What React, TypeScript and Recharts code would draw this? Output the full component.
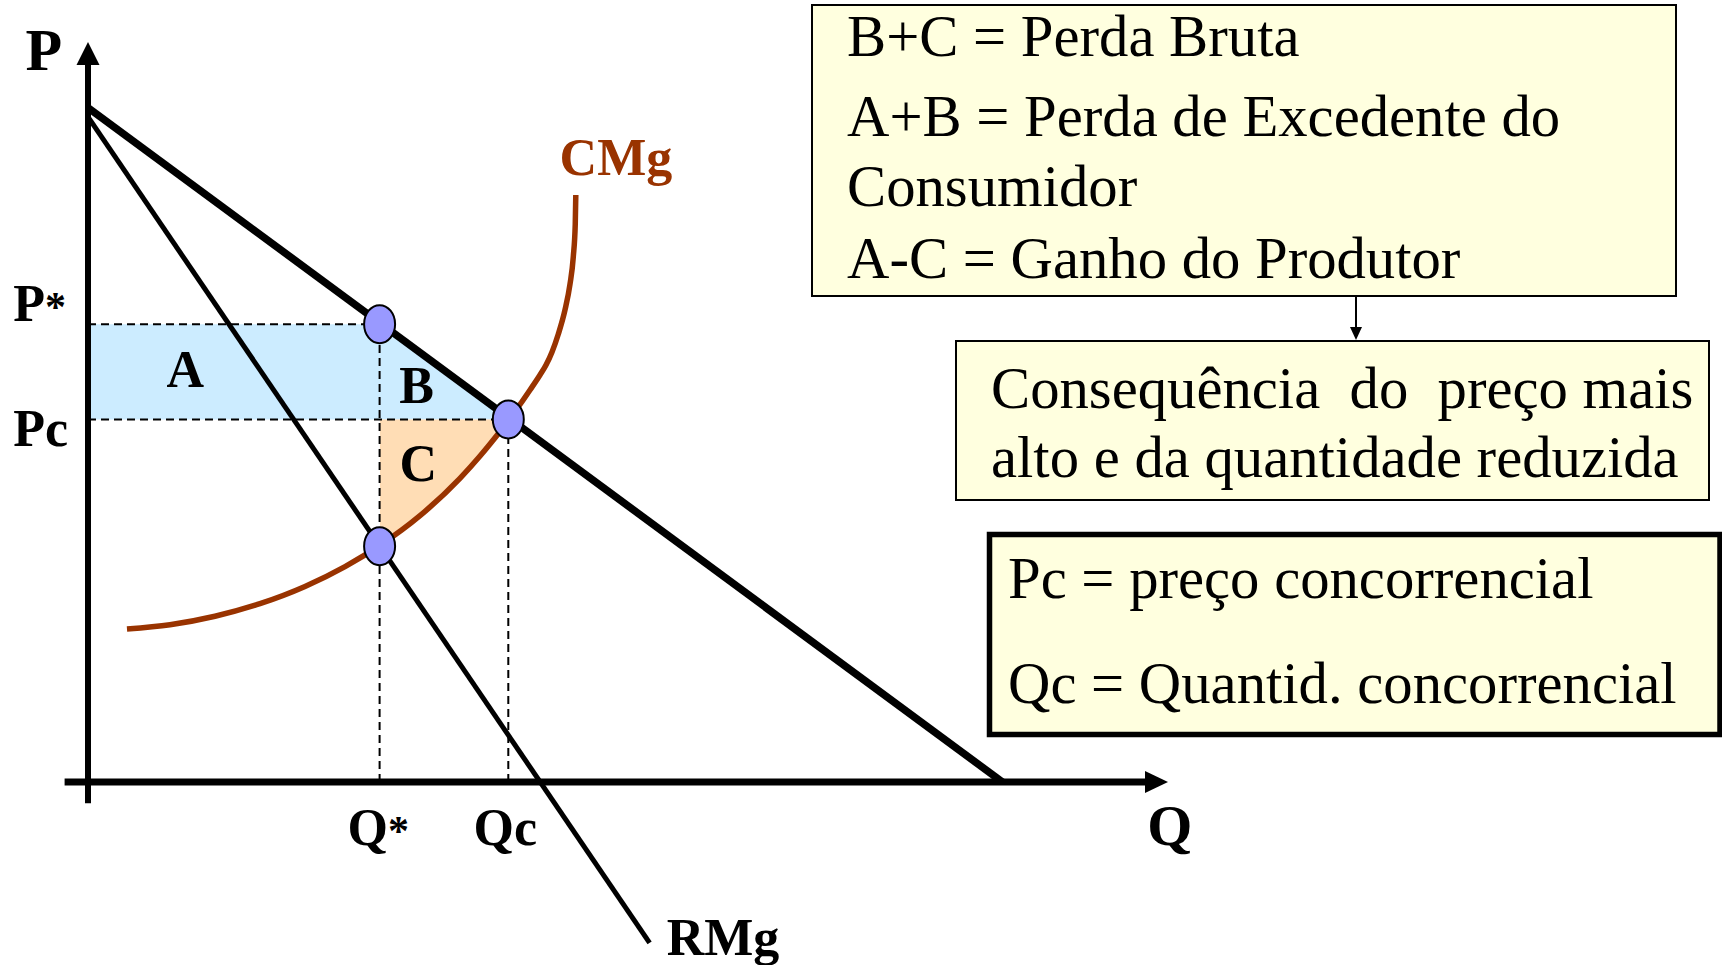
import React from 'react';
import {
  Area,
  ComposedChart,
  Line,
  ReferenceDot,
  ReferenceLine,
  Scatter,
  XAxis,
  YAxis,
} from 'recharts';

// monopoly equilibrium (in chart units)
const qStar = 32.4;
const qComp = 46.7;
const pStar = 49.5;
const pComp = 39.2;
const mcAtQStar = 25.5;

// demand (average revenue) line
const demand = [
  { q: 0, p: 72.9 },
  { q: 101.6, p: 0 },
];

// marginal revenue RMg
const marginalRevenue = [
  { q: 0, p: 71.9 },
  { q: 62.4, p: -17.4 },
];

// marginal cost CMg
const marginalCost = [
  { q: 4.33, p: 16.54 },
  { q: 9.11, p: 17.0 },
  { q: 14.11, p: 17.92 },
  { q: 19.11, p: 19.28 },
  { q: 24.11, p: 21.14 },
  { q: 28.56, p: 23.29 },
  { q: 32.44, p: 25.58 },
  { q: 36.89, p: 28.79 },
  { q: 41.33, p: 32.83 },
  { q: 43.56, p: 35.24 },
  { q: 44.67, p: 36.54 },
  { q: 45.78, p: 37.89 },
  { q: 46.67, p: 39.03 },
  { q: 48.0, p: 40.81 },
  { q: 49.11, p: 42.38 },
  { q: 50.22, p: 44.0 },
  { q: 50.89, p: 45.08 },
  { q: 51.56, p: 46.49 },
  { q: 52.26, p: 48.43 },
  { q: 53.0, p: 51.03 },
  { q: 53.56, p: 53.84 },
  { q: 53.92, p: 56.76 },
  { q: 54.14, p: 60.32 },
  { q: 54.2, p: 63.46 },
];

const markedPoints = [
  { q: qStar, p: pStar },
  { q: qComp, p: pComp },
  { q: qStar, p: mcAtQStar },
];

const boxOneLines = [
  'B+C = Perda Bruta',
  'A+B = Perda de Excedente do',
  'Consumidor',
  'A-C = Ganho do Produtor',
];
const boxTwoLines = ['Consequência  do  preço mais', 'alto e da quantidade reduzida'];
const boxThreeLines = ['Pc = preço concorrencial', 'Qc = Quantid. concorrencial'];

// shaded areas built from the values above
const lostSurplus = [
  { q: 0, band: [pComp, pStar] },
  { q: qStar, band: [pComp, pStar] },
  { q: qComp, band: [pComp, pComp] },
];
const deadweightC = marginalCost
  .filter((d) => d.q >= qStar && d.q <= qComp)
  .map((d) => ({ q: d.q, band: [Math.min(d.p, pComp), pComp] }));

const serif = "'Liberation Serif', 'Times New Roman', serif";
const brown = '#993300';

type TextOpts = { size?: number; anchor?: string; color?: string; dx?: number; dy?: number; star?: boolean };

// text label drawn at a data position
const textShape = (label: string, opts: TextOpts = {}) => (props: any) => (
  <text
    x={props.cx + (opts.dx || 0)}
    y={props.cy + (opts.dy || 0)}
    fontFamily={serif}
    fontWeight="bold"
    fontSize={opts.size || 52}
    fill={opts.color || '#000'}
    textAnchor={opts.anchor || 'middle'}
  >
    {label}
    {opts.star && <tspan fontSize={42}>*</tspan>}
  </text>
);

const ellipseShape = (props: any) => (
  <ellipse cx={props.cx} cy={props.cy} rx={15.5} ry={19} fill="#9999FF" stroke="#000" strokeWidth={2} />
);

export default function App() {
  const dash = { stroke: '#000', strokeWidth: 2, strokeDasharray: '8 5', ifOverflow: 'visible' as const };

  return (
    <div style={{ position: 'absolute', left: 0, top: 0, width: 1722, height: 965, background: '#fff' }}>
      <ComposedChart
        width={1722}
        height={965}
        margin={{ top: 32.75, right: 455, bottom: 7.25, left: 7 }}
      >
        <XAxis type="number" dataKey="q" domain={[-9, 131]} hide />
        <YAxis type="number" domain={[-19, 81]} hide />

        <Area
          data={lostSurplus}
          dataKey="band"
          type="linear"
          fill="#CCECFF"
          fillOpacity={1}
          stroke="none"
          isAnimationActive={false}
        />
        <Area
          data={deadweightC}
          dataKey="band"
          type="monotone"
          fill="#FFDDB5"
          fillOpacity={1}
          stroke="none"
          isAnimationActive={false}
        />

        <ReferenceLine segment={[{ x: 0, y: pStar }, { x: qStar, y: pStar }]} {...dash} />
        <ReferenceLine segment={[{ x: 0, y: pComp }, { x: qComp, y: pComp }]} {...dash} />
        <ReferenceLine segment={[{ x: qStar, y: 0 }, { x: qStar, y: pStar }]} {...dash} />
        <ReferenceLine segment={[{ x: qComp, y: 0 }, { x: qComp, y: pComp }]} {...dash} />

        {/* axes with arrows */}
        <ReferenceLine
          segment={[{ x: 0, y: -2.3 }, { x: 0, y: 77.6 }]}
          stroke="#000"
          strokeWidth={6}
          ifOverflow="visible"
        />
        <ReferenceLine
          segment={[{ x: -2.6, y: 0 }, { x: 117.5, y: 0 }]}
          stroke="#000"
          strokeWidth={7}
          ifOverflow="visible"
        />
        <ReferenceDot
          x={0}
          y={80}
          ifOverflow="visible"
          shape={(p: any) => (
            <polygon points={`${p.cx},${p.cy} ${p.cx - 11.5},${p.cy + 23} ${p.cx + 11.5},${p.cy + 23}`} fill="#000" />
          )}
        />
        <ReferenceDot
          x={120}
          y={0}
          ifOverflow="visible"
          shape={(p: any) => (
            <polygon points={`${p.cx},${p.cy} ${p.cx - 23},${p.cy - 11} ${p.cx - 23},${p.cy + 11}`} fill="#000" />
          )}
        />

        <Line
          data={demand}
          dataKey="p"
          type="linear"
          stroke="#000"
          strokeWidth={7.5}
          dot={false}
          activeDot={false}
          isAnimationActive={false}
        />
        <Line
          data={marginalRevenue}
          dataKey="p"
          type="linear"
          stroke="#000"
          strokeWidth={5}
          dot={false}
          activeDot={false}
          isAnimationActive={false}
        />
        <Line
          data={marginalCost}
          dataKey="p"
          type="monotone"
          stroke={brown}
          strokeWidth={5.5}
          dot={false}
          activeDot={false}
          isAnimationActive={false}
        />

        <Scatter data={markedPoints} dataKey="p" shape={ellipseShape} isAnimationActive={false} />

        {/* labels */}
        <ReferenceDot x={-4.9} y={77} ifOverflow="visible" shape={textShape('P', { size: 60 })} />
        <ReferenceDot x={-8.3} y={pStar} ifOverflow="visible" shape={textShape('P', { anchor: 'start', dy: -3, star: true })} />
        <ReferenceDot x={-8.3} y={pComp} ifOverflow="visible" shape={textShape('Pc', { anchor: 'start', dy: 27 })} />
        <ReferenceDot x={qStar} y={0} ifOverflow="visible" shape={textShape('Q', { anchor: 'start', dx: -32, dy: 63, star: true })} />
        <ReferenceDot x={qComp} y={0} ifOverflow="visible" shape={textShape('Qc', { dx: -3, dy: 63 })} />
        <ReferenceDot x={120.2} y={0} ifOverflow="visible" shape={textShape('Q', { size: 58, dy: 63 })} />
        <ReferenceDot x={64.3} y={-18.7} ifOverflow="visible" shape={textShape('RMg', { anchor: 'start' })} />
        <ReferenceDot x={52.4} y={65.6} ifOverflow="visible" shape={textShape('CMg', { anchor: 'start', color: brown })} />
        <ReferenceDot x={10.8} y={42.7} ifOverflow="visible" shape={textShape('A')} />
        <ReferenceDot x={36.5} y={41.0} ifOverflow="visible" shape={textShape('B')} />
        <ReferenceDot x={36.7} y={32.5} ifOverflow="visible" shape={textShape('C')} />
      </ComposedChart>

      <svg
        width={1722}
        height={965}
        style={{ position: 'absolute', left: 0, top: 0, pointerEvents: 'none' }}
        fontFamily={serif}
        fontSize={58.7}
      >
        <rect x={812} y={5} width={864} height={291} fill="#FFFFDF" stroke="#000" strokeWidth={2} />
        {boxOneLines.map((t, i) => (
          <text key={t} x={847} y={[56, 136, 206, 278][i]}>
            {t}
          </text>
        ))}

        <line x1={1356} y1={296} x2={1356} y2={328} stroke="#000" strokeWidth={2} />
        <polygon points="1356,340 1350,327 1362,327" fill="#000" />

        <rect x={956} y={341} width={753} height={159} fill="#FFFFDF" stroke="#000" strokeWidth={2} />
        {boxTwoLines.map((t, i) => (
          <text key={t} x={991} y={[408, 477][i]} style={{ whiteSpace: 'pre' }}>
            {t}
          </text>
        ))}

        <rect x={989.5} y={534.5} width={730.5} height={200} fill="#FFFFDF" stroke="#000" strokeWidth={5.5} />
        {boxThreeLines.map((t, i) => (
          <text key={t} x={1008} y={[598, 703][i]}>
            {t}
          </text>
        ))}
      </svg>
    </div>
  );
}
